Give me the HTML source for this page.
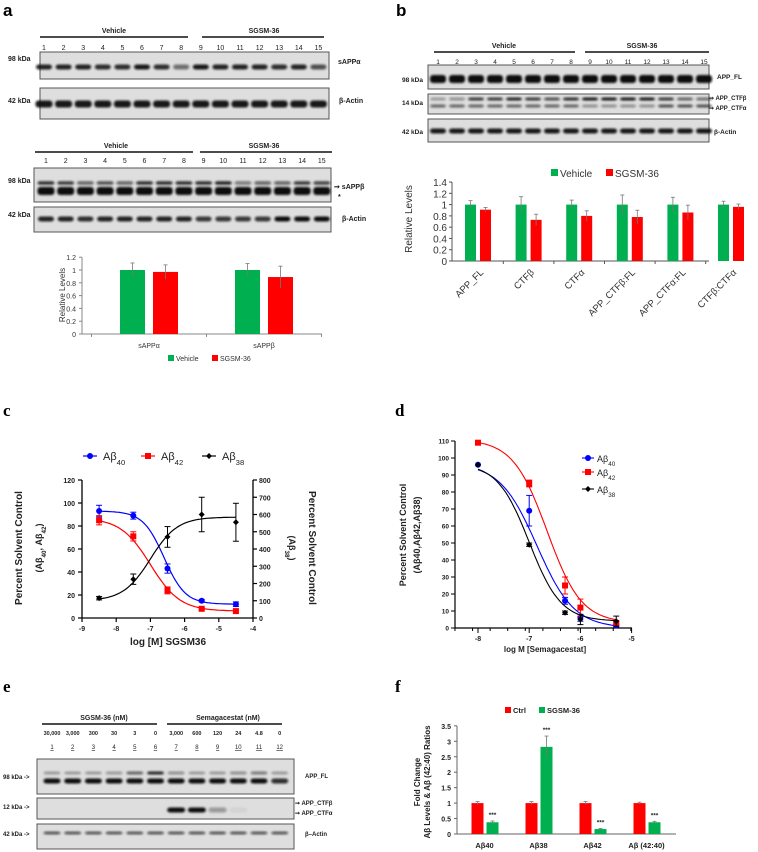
<!DOCTYPE html>
<html><head><meta charset="utf-8"><style>
html,body{margin:0;padding:0;background:#fff;}
svg{display:block;font-family:"Liberation Sans",Arial,sans-serif;}
</style></head><body>
<svg id="fig" width="758" height="852" viewBox="0 0 758 852" xmlns="http://www.w3.org/2000/svg">
<defs><filter id="blur" x="-20%" y="-100%" width="140%" height="300%"><feGaussianBlur stdDeviation="1.1"/></filter></defs>
</svg>
<script>
// ---------- DATA ----------
const aCats=['sAPPα','sAPPβ'];
const aVeh=[1,1];
const aVehErr=[0.11,0.10];
const aSg=[0.97,0.89];
const aSgErr=[0.11,0.17];
const aTicks=[0,0.2,0.4,0.6,0.8,1,1.2];

const bCats=['APP_FL','CTFβ','CTFα','APP_CTFβ:FL','APP_CTFα:FL','CTFβ:CTFα'];
const bVeh=[1,1,1,1,1,1];
const bVehErr=[0.07,0.14,0.08,0.17,0.13,0.06];
const bSg=[0.91,0.73,0.80,0.78,0.86,0.96];
const bSgErr=[0.04,0.10,0.09,0.12,0.13,0.05];
const bTicks=[0,0.2,0.4,0.6,0.8,1,1.2,1.4];

const cX=[-8.5,-7.5,-6.5,-5.5,-4.5];
const c40=[93,89,43,15,12];
const c40Err=[5,3,4,1,2];
const c42=[85,71,24,8,6];
const c42Err=[4,4,3,1,1];
const c38=[115,225,470,600,555];
const c38Err=[10,30,60,100,110];
const c40Fit=[93,12,-6.6,1.4];
const c42Fit=[87,6,-7.0,1.0];
const c38Fit=[100,585,-7.0,1.1];
const cLeftTicks=[0,20,40,60,80,100,120];
const cRightTicks=[0,100,200,300,400,500,600,700,800];
const cXTicks=[-9,-8,-7,-6,-5,-4];

const dX=[-8,-7,-6.3,-6,-5.3];
const d40=[96,69,16,6,1.5];
const d40Err=[0,9,2,2,1];
const d42=[109,85,25,12,3];
const d42Err=[0,2,5,5,1];
const d38=[96,49,9,5,4];
const d38Err=[0,1,1,3,3];
const d40Fit=[97,0,-6.85,1.2];
const d42Fit=[111,3,-6.65,1.3];
const d38Fit=[97,4,-7.0,1.4];
const dYTicks=[0,10,20,30,40,50,60,70,80,90,100,110];
const dXTicks=[-8,-7,-6,-5];

const fCats=['Aβ40','Aβ38','Aβ42','Aβ (42:40)'];
const fCtrl=[1,1,1,1];
const fCtrlErr=[0.05,0.05,0.05,0.03];
const fSg=[0.38,2.82,0.16,0.38];
const fSgErr=[0.04,0.35,0.02,0.03];
const fTicks=[0,0.5,1,1.5,2,2.5,3,3.5];

// ---------- HELPERS ----------
const NS='http://www.w3.org/2000/svg';
const svg=document.getElementById('fig');
function mk(tag,a,p){const e=document.createElementNS(NS,tag);for(const k in a)e.setAttribute(k,a[k]);(p||svg).appendChild(e);return e;}
function T(x,y,s,a,p){const e=mk('text',Object.assign({x:x,y:y,'font-size':9,fill:'#222'},a||{}),p);e.textContent=s;return e;}
function sub(x,y,base,sb,a,p){const e=mk('text',Object.assign({x:x,y:y,fill:'#222'},a||{}),p);e.appendChild(document.createTextNode(base));const s=mk('tspan',{'baseline-shift':'sub','font-size':'70%'},e);s.textContent=sb;return e;}
function L(x1,y1,x2,y2,st,w,p){return mk('line',{x1:x1,y1:y1,x2:x2,y2:y2,stroke:st||'#333','stroke-width':w||1},p);}

// ---------- PANEL LETTERS ----------
let t;
t=T(3,16,'a',{'font-size':17,'font-weight':'bold',fill:'#000'});

t=T(396,16,'b',{'font-size':17,'font-weight':'bold',fill:'#000'});

t=T(3,416,'c',{'font-size':17,'font-weight':'bold',fill:'#000','font-family':'Liberation Serif, serif'});

t=T(395,416,'d',{'font-size':17,'font-weight':'bold',fill:'#000','font-family':'Liberation Serif, serif'});

t=T(3,692,'e',{'font-size':17,'font-weight':'bold',fill:'#000','font-family':'Liberation Serif, serif'});

t=T(395,692,'f',{'font-size':17,'font-weight':'bold',fill:'#000','font-family':'Liberation Serif, serif'});


// ---------- BLOT HELPER ----------
function blot(name,x,y,w,h,laneXs,bands,bw){
  const g=mk('g',{});
  
  
  mk('rect',{x:x,y:y,width:w,height:h,fill:'#dedede',stroke:'#555','stroke-width':1},g);
  bands.forEach(b=>{
    laneXs.forEach((lx,i)=>{
      const op=b.op[i%b.op.length];
      if(op<=0)return;
      mk('rect',{x:lx-bw/2,y:b.y-b.h/2,width:bw,height:b.h,rx:3,fill:'#111','fill-opacity':op,filter:'url(#blur)'},g);
    });
  });
  return g;
}
function header(name,x1,x2,yl,label,cx){
  const g=mk('g',{});
  
  
  L(x1,yl,x2,yl,'#111',1.5,g);
  T(cx,yl-4,label,{'font-size':7,'font-weight':'bold','text-anchor':'middle'},g);
}
function laneNums(xs,y,fs,name){
  const g=mk('g',{});
  
  
  xs.forEach((x,i)=>T(x,y,String(i+1),{'font-size':fs,'text-anchor':'middle'},g));
}

// ---------- PANEL A BLOTS ----------
const aL1=[];for(let i=0;i<15;i++)aL1.push(44+i*19.6);
header('a-vehicle-header-1',40,188,37,'Vehicle',114);
header('a-sgsm-header-1',202,324,37,'SGSM-36',264);
laneNums(aL1,50,7,'a-lane-numbers-1');
blot('a-blot-sappa',40,52,289,27,aL1,[{y:67,h:5,op:[0.9,0.9,0.9,0.85,0.85,0.95,0.85,0.55,0.95,0.9,0.9,0.9,0.85,0.9,0.7]}],16);
blot('a-blot-actin-1',40,88,289,31,aL1,[{y:104,h:7,op:[0.95]}],17);
T(8,61,'98 kDa',{'font-size':7,'font-weight':'bold'});
T(8,103,'42 kDa',{'font-size':7,'font-weight':'bold'});
T(338,64,'sAPPα',{'font-size':7,'font-weight':'bold'});
T(339,103,'β-Actin',{'font-size':7,'font-weight':'bold'});
const aL2=[];for(let i=0;i<15;i++)aL2.push(46+i*19.7);
header('a-vehicle-header-2',35,193,152,'Vehicle',116);
header('a-sgsm-header-2',200,332,152,'SGSM-36',264);
laneNums(aL2,163,7,'a-lane-numbers-2');
blot('a-blot-sappb',34,168,297,34,aL2,[{y:183,h:3.5,op:[0.85,0.8,0.6,0.7,0.6,0.85,0.85,0.85,0.85,0.9,0.5,0.6,0.6,0.8,0.75]},{y:191,h:8,op:[1]}],17);
blot('a-blot-actin-2',34,207,297,25,aL2,[{y:219,h:5,op:[0.9,0.9,0.85,0.9,0.9,0.9,0.9,0.9,0.8,0.8,0.8,0.8,1,1,1]}],16);
T(8,183,'98 kDa',{'font-size':7,'font-weight':'bold'});
T(8,217,'42 kDa',{'font-size':7,'font-weight':'bold'});
T(334,189,'➞ sAPPβ',{'font-size':7,'font-weight':'bold'});
T(338,199,'*',{'font-size':7,'font-weight':'bold'});
T(342,221,'β-Actin',{'font-size':7,'font-weight':'bold'});

// ---------- PANEL A BAR CHART ----------
(function(){
  const g=mk('g',{});
  
  
  const y=v=>334-v*64;
  const cx=i=>149+i*115;
  L(82,y(1.2),82,334,'#888',1,g);
  L(82,334,322,334,'#888',1,g);
  aTicks.forEach(v=>{L(79,y(v),82,y(v),'#888',1,g);T(76,y(v)+3,String(v),{'font-size':7,'text-anchor':'end',fill:'#333'},g);});
  [0,1,2].forEach(i=>L(91.5+i*115,334,91.5+i*115,337,'#888',1,g));
  aCats.forEach((c,i)=>{
    const b1=mk('rect',{x:cx(i)-29,y:y(aVeh[i]),width:25,height:aVeh[i]*64,fill:'#00b050'},g);
    
    
    const b2=mk('rect',{x:cx(i)+4,y:y(aSg[i]),width:25,height:aSg[i]*64,fill:'#ff0000'},g);
    
    
    [[cx(i)-16.5,aVeh[i],aVehErr[i]],[cx(i)+16.5,aSg[i],aSgErr[i]]].forEach(([x,v,e])=>{
      L(x,y(v-e),x,y(v+e),'#777',0.8,g);L(x-2,y(v+e),x+2,y(v+e),'#777',0.8,g);
    });
    T(cx(i),348,c,{'font-size':7,'text-anchor':'middle',fill:'#333'},g);
  });
  T(0,0,'Relative Levels',{'font-size':8,'text-anchor':'middle',fill:'#333',transform:'translate(65,295) rotate(-90)'},g);
  mk('rect',{x:168,y:355,width:6,height:6,fill:'#00b050'},g);
  T(176,361,'Vehicle',{'font-size':7,fill:'#333'},g);
  mk('rect',{x:212,y:355,width:6,height:6,fill:'#ff0000'},g);
  T(220,361,'SGSM-36',{'font-size':7,fill:'#333'},g);
})();

// ---------- PANEL B BLOTS ----------
const bL=[];for(let i=0;i<15;i++)bL.push(438+i*19);
header('b-vehicle-header',434,575,52,'Vehicle',504);
header('b-sgsm-header',585,709,52,'SGSM-36',642);
laneNums(bL,64,6.5,'b-lane-numbers');
blot('b-blot-app-fl',428,65,281,24,bL,[{y:79,h:8,op:[1]}],16);
blot('b-blot-ctf',428,94,281,20,bL,[{y:99,h:3,op:[0.3,0.4,0.8,0.8,0.9,0.8,0.7,0.85,0.95,0.95,0.95,0.95,0.8,0.6,0.55]},{y:106,h:3,op:[0.6,0.6,0.6,0.6,0.6,0.6,0.6,0.6,0.4,0.4,0.4,0.4,0.7,0.7,0.7]}],16);
blot('b-blot-actin',428,119,281,23,bL,[{y:131,h:5,op:[0.95]}],16);
T(402,82,'98 kDa',{'font-size':6.5,'font-weight':'bold'});
T(402,105,'14 kDa',{'font-size':6.5,'font-weight':'bold'});
T(402,134,'42 kDa',{'font-size':6.5,'font-weight':'bold'});
T(717,79,'APP_FL',{'font-size':6.5,'font-weight':'bold'});
T(709,100,'➞ APP_CTFβ',{'font-size':6,'font-weight':'bold'});
T(709,110,'➞ APP_CTFα',{'font-size':6,'font-weight':'bold'});
T(714,134,'β-Actin',{'font-size':6.5,'font-weight':'bold'});

// ---------- PANEL B BAR CHART ----------
(function(){
  const g=mk('g',{});
  
  
  const k=56.4;
  const y=v=>261-v*k;
  const cx=i=>478+i*50.6;
  L(452,y(1.4),452,261,'#555',1,g);
  L(452,261,709,261,'#555',1,g);
  bTicks.forEach(v=>{L(449,y(v),452,y(v),'#555',1,g);T(447,y(v)+4,String(v),{'font-size':10,'text-anchor':'end',fill:'#333'},g);});
  for(let i=1;i<6;i++)L(452.7+i*50.6,261,452.7+i*50.6,264,'#555',1,g);
  bCats.forEach((c,i)=>{
    const b1=mk('rect',{x:cx(i)-13,y:y(bVeh[i]),width:11,height:bVeh[i]*k,fill:'#00b050'},g);
    
    
    const b2=mk('rect',{x:cx(i)+2,y:y(bSg[i]),width:11,height:bSg[i]*k,fill:'#ff0000'},g);
    
    
    [[cx(i)-7.5,bVeh[i],bVehErr[i]],[cx(i)+7.5,bSg[i],bSgErr[i]]].forEach(([x,v,e])=>{
      L(x,y(v-e),x,y(v+e),'#777',0.8,g);L(x-2,y(v+e),x+2,y(v+e),'#777',0.8,g);
    });
    T(cx(i)+6,273,c,{'font-size':9.5,'text-anchor':'end',fill:'#333',transform:'rotate(-45 '+(cx(i)+6)+' 273)'},g);
  });
  T(0,0,'Relative Levels',{'font-size':10,'text-anchor':'middle',fill:'#333',transform:'translate(412,219) rotate(-90)'},g);
  mk('rect',{x:551,y:169,width:7,height:7,fill:'#00b050'},g);
  T(560,177,'Vehicle',{'font-size':10,fill:'#333'},g);
  mk('rect',{x:606,y:169,width:7,height:7,fill:'#ff0000'},g);
  T(615,177,'SGSM-36',{'font-size':10,fill:'#333'},g);
})();

// ---------- PANEL C ----------
function pl4dec(p,x){return p[1]+(p[0]-p[1])/(1+Math.pow(10,(x-p[2])*p[3]));}
function pl4inc(p,x){return p[0]+(p[1]-p[0])/(1+Math.pow(10,(p[2]-x)*p[3]));}
function marker(g,x,y,shape,col){
  if(shape==='sq')mk('rect',{x:x-3,y:y-3,width:6,height:6,fill:col},g);
  else if(shape==='dia')mk('path',{d:`M${x} ${y-3}L${x+3} ${y}L${x} ${y+3}L${x-3} ${y}Z`,fill:col},g);
  else mk('circle',{cx:x,cy:y,r:3,fill:col},g);
}
function errbar(g,x,y1,y2,col){L(x,y1,x,y2,col,1,g);L(x-3,y1,x+3,y1,col,1,g);L(x-3,y2,x+3,y2,col,1,g);}
(function(){
  const g=mk('g',{});
  
  
  const X=v=>82+(v+9)*34.2;
  const YL=v=>618-v*1.15;
  const YR=v=>618-v*0.1725;
  L(82,480,82,618,'#000',1.3,g);L(82,618,253,618,'#000',1.3,g);L(253,480,253,618,'#000',1.3,g);
  cLeftTicks.forEach(v=>{L(78,YL(v),82,YL(v),'#000',1.2,g);T(75,YL(v)+3,String(v),{'font-size':7,'font-weight':'bold','text-anchor':'end'},g);});
  cRightTicks.forEach(v=>{L(253,YR(v),257,YR(v),'#000',1.2,g);T(259,YR(v)+3,String(v),{'font-size':7,'font-weight':'bold'},g);});
  cXTicks.forEach(v=>{L(X(v),618,X(v),622,'#000',1.2,g);T(X(v),631,String(v),{'font-size':7,'font-weight':'bold','text-anchor':'middle'},g);});
  T(168,645,'log [M] SGSM36',{'font-size':10,'font-weight':'bold','text-anchor':'middle'},g);
  T(0,0,'Percent Solvent Control',{'font-size':10,'font-weight':'bold','text-anchor':'middle',transform:'translate(22,548) rotate(-90)'},g);
  sub(0,0,'(Aβ','40',{'font-size':9,'font-weight':'bold','text-anchor':'middle',transform:'translate(42,548) rotate(-90)'},g).lastChild.after(document.createTextNode(', Aβ'));
  const st=g.lastChild; const s2=mk('tspan',{'baseline-shift':'sub','font-size':'70%'},st); s2.textContent='42'; st.appendChild(document.createTextNode(')'));
  T(0,0,'Percent Solvent Control',{'font-size':10,'font-weight':'bold','text-anchor':'middle',transform:'translate(309,548) rotate(90)'},g);
  sub(0,0,'(Aβ','38',{'font-size':9,'font-weight':'bold','text-anchor':'middle',transform:'translate(289,548) rotate(90)'},g).appendChild(document.createTextNode(')'));
  const series=[
    {d:c40,e:c40Err,fit:c40Fit,f:pl4dec,Y:YL,col:'#0000ff',sh:'c',name:'c-series-abeta40'},
    {d:c42,e:c42Err,fit:c42Fit,f:pl4dec,Y:YL,col:'#ff0000',sh:'sq',name:'c-series-abeta42'},
    {d:c38,e:c38Err,fit:c38Fit,f:pl4inc,Y:YR,col:'#000',sh:'dia',name:'c-series-abeta38'}];
  series.forEach(s=>{
    const sg=mk('g',{},g);
    
    
    let p='';
    for(let x=cX[0];x<=cX[cX.length-1]+0.001;x+=0.05)p+=(p?'L':'M')+X(x).toFixed(1)+' '+s.Y(s.f(s.fit,x)).toFixed(1);
    mk('path',{d:p,fill:'none',stroke:s.col,'stroke-width':1.2},sg);
    s.d.forEach((v,i)=>{errbar(sg,X(cX[i]),s.Y(v-s.e[i]),s.Y(v+s.e[i]),s.col);marker(sg,X(cX[i]),s.Y(v),s.sh,s.col);});
  });
  const lg=mk('g',{},g);
  
  
  [[83,'40','#0000ff','c'],[141,'42','#ff0000','sq'],[202,'38','#000','dia']].forEach(([x,s,c,sh])=>{
    L(x,456,x+14,456,c,1.2,lg);marker(lg,x+7,456,sh,c);
    sub(x+20,460,'Aβ',s,{'font-size':11},lg);
  });
})();

// ---------- PANEL D ----------
(function(){
  const g=mk('g',{});
  
  
  const X=v=>478+(v+8)*51.2;
  const Y=v=>628-v*1.7;
  L(455,Y(110),455,628,'#000',1.2,g);L(455,628,632,628,'#000',1.2,g);
  dYTicks.forEach(v=>{L(451,Y(v),455,Y(v),'#000',1,g);T(449,Y(v)+2.5,String(v),{'font-size':6.5,'font-weight':'bold','text-anchor':'end'},g);});
  for(let v=-8.45;v<=-5;v+=0.3435){L(X(v),628,X(v),631,'#000',1,g);}
  dXTicks.forEach(v=>{L(X(v),628,X(v),633,'#000',1,g);T(X(v),641,String(v),{'font-size':7,'font-weight':'bold','text-anchor':'middle'},g);});
  T(545,652,'log M [Semagacestat]',{'font-size':8,'font-weight':'bold','text-anchor':'middle'},g);
  T(0,0,'Percent Solvent Control',{'font-size':9,'font-weight':'bold','text-anchor':'middle',transform:'translate(406,535) rotate(-90)'},g);
  T(0,0,'(Aβ40,Aβ42,Aβ38)',{'font-size':9,'font-weight':'bold','text-anchor':'middle',transform:'translate(420,535) rotate(-90)'},g);
  const series=[
    {d:d40,e:d40Err,fit:d40Fit,col:'#0000ff',sh:'c',name:'d-series-abeta40'},
    {d:d42,e:d42Err,fit:d42Fit,col:'#ff0000',sh:'sq',name:'d-series-abeta42'},
    {d:d38,e:d38Err,fit:d38Fit,col:'#000',sh:'dia',name:'d-series-abeta38'}];
  series.forEach(s=>{
    const sg=mk('g',{},g);
    
    
    let p='';
    for(let x=dX[0];x<=dX[dX.length-1]+0.001;x+=0.05)p+=(p?'L':'M')+X(x).toFixed(1)+' '+Y(pl4dec(s.fit,x)).toFixed(1);
    mk('path',{d:p,fill:'none',stroke:s.col,'stroke-width':1.1},sg);
    s.d.forEach((v,i)=>{if(s.e[i]>0)errbar(sg,X(dX[i]),Y(v-s.e[i]),Y(v+s.e[i]),s.col);marker(sg,X(dX[i]),Y(v),s.sh,s.col);});
  });
  const lg=mk('g',{},g);
  
  
  [[458,'40','#0000ff','c'],[472,'42','#ff0000','sq'],[489,'38','#000','dia']].forEach(([y,s,c,sh])=>{
    L(582,y,594,y,c,1.1,lg);marker(lg,588,y,sh,c);
    sub(597,y+4,'Aβ',s,{'font-size':9},lg);
  });
})();

// ---------- PANEL E ----------
const eL=[];for(let i=0;i<12;i++)eL.push(52+i*20.7);
const eConc=['30,000','3,000','300','30','3','0','3,000','600','120','24','4.8','0'];
header('e-sgsm-header',42,157,724,'SGSM-36 (nM)',104);
header('e-semagacestat-header',167,282,724,'Semagacestat (nM)',228);
(function(){
  const g=mk('g',{});
  
  
  eL.forEach((x,i)=>{T(x,735,eConc[i],{'font-size':5.5,'font-weight':'bold','text-anchor':'middle'},g);
    T(x,749,String(i+1),{'font-size':6,'text-anchor':'middle','text-decoration':'underline'},g);});
})();
blot('e-blot-app-fl',37,759,257,35,eL,[{y:773,h:3,op:[0.3,0.3,0.3,0.35,0.6,0.9,0.4,0.3,0.3,0.4,0.5,0.3]},{y:781,h:5,op:[1,1,1,1,1,1,1,1,1,1,1,0.85]}],17);
blot('e-blot-ctf',37,798,257,21,eL,[{y:810,h:5,op:[0,0,0,0,0,0,1,1,0.35,0.05,0,0]}],18);
blot('e-blot-actin',37,824,257,25,eL,[{y:833,h:2.5,op:[0.75]}],17);
T(3,779,'98 kDa ->',{'font-size':6,'font-weight':'bold'});
T(3,809,'12 kDa ->',{'font-size':6,'font-weight':'bold'});
T(3,836,'42 kDa ->',{'font-size':6,'font-weight':'bold'});
T(305,778,'APP_FL',{'font-size':6,'font-weight':'bold'});
T(295,805,'➞ APP_CTFβ',{'font-size':6,'font-weight':'bold'});
T(295,815,'➞ APP_CTFα',{'font-size':6,'font-weight':'bold'});
T(305,836,'β–Actin',{'font-size':6,'font-weight':'bold'});

// ---------- PANEL F ----------
(function(){
  const g=mk('g',{});
  
  
  const k=30.9;
  const y=v=>834-v*k;
  const cx=i=>484.5+i*54;
  L(457,y(3.5),457,834,'#666',1,g);L(457,834,676,834,'#666',1,g);
  fTicks.forEach(v=>{L(454,y(v),457,y(v),'#666',1,g);T(451,y(v)+3,String(v),{'font-size':7,'font-weight':'bold','text-anchor':'end'},g);});
  fCats.forEach((c,i)=>{
    const b1=mk('rect',{x:cx(i)-13,y:y(fCtrl[i]),width:12,height:fCtrl[i]*k,fill:'#ff0000'},g);
    
    
    const b2=mk('rect',{x:cx(i)+2,y:y(fSg[i]),width:12,height:fSg[i]*k,fill:'#00b050'},g);
    
    
    [[cx(i)-7,fCtrl[i],fCtrlErr[i]],[cx(i)+8,fSg[i],fSgErr[i]]].forEach(([x,v,e])=>{
      L(x,y(v-e),x,y(v+e),'#777',0.8,g);L(x-2,y(v+e),x+2,y(v+e),'#777',0.8,g);
    });
    T(cx(i)+8,y(fSg[i]+fSgErr[i])-4,'***',{'font-size':6.5,'font-weight':'bold','text-anchor':'middle'},g);
    T(cx(i),848,c,{'font-size':7.5,'font-weight':'bold','text-anchor':'middle'},g);
  });
  T(0,0,'Fold Change',{'font-size':8,'font-weight':'bold','text-anchor':'middle',transform:'translate(420,782) rotate(-90)'},g);
  T(0,0,'Aβ Levels & Aβ (42:40) Ratios',{'font-size':8,'font-weight':'bold','text-anchor':'middle',transform:'translate(430,782) rotate(-90)'},g);
  mk('rect',{x:505,y:707,width:6,height:6,fill:'#ff0000'},g);
  T(513,713,'Ctrl',{'font-size':7.5,'font-weight':'bold'},g);
  mk('rect',{x:539,y:707,width:6,height:6,fill:'#00b050'},g);
  T(547,713,'SGSM-36',{'font-size':7.5,'font-weight':'bold'},g);
})();
</script>
</body></html>
